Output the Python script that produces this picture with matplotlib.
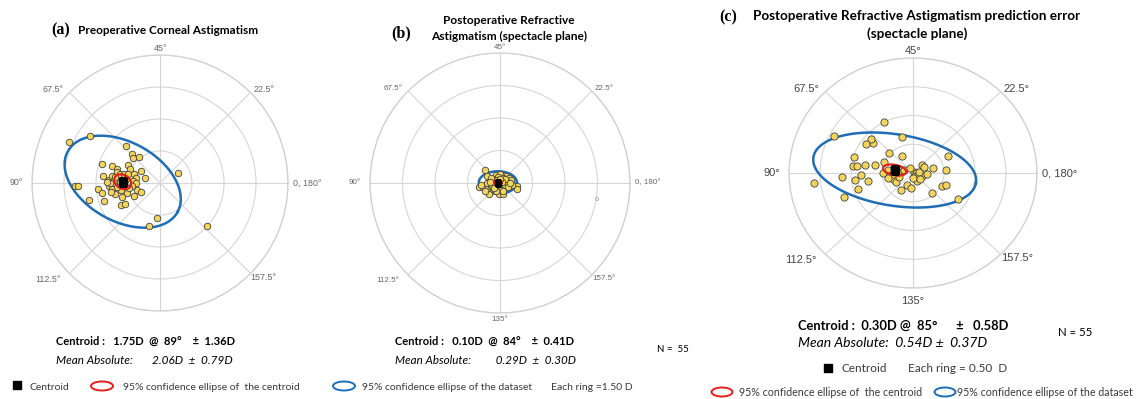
import numpy as np
import matplotlib.pyplot as plt
from matplotlib.patches import Ellipse

plt.rcParams['font.family'] = ['Lato', 'DejaVu Sans']

# double-angle vector components (D): x = C*cos(2*axis), y = C*sin(2*axis)
pre_x = [-4.25, -3.30, -1.59, -1.33, -1.25, -0.98, -2.70, -2.27, -2.02, -2.02,
         -1.48, -1.42, -0.91, -0.72, 0.86, -2.69, -2.38, -2.23, -1.88, -1.69,
         -1.52, -1.23, -1.14, -1.27, -1.14, -3.97, -3.83, -2.92, -2.73, -2.39,
         -2.27, -2.09, -2.30, -1.84, -1.56, -1.08, -0.88, -1.22, -1.77, -3.31,
         -2.64, -1.83, -1.66, -0.14, -0.53, 2.19, -2.16, -1.88, -2.34, -2.03,
         -1.30, -1.60, -2.10, -1.45, -2.50]
pre_y = [1.94, 2.20, 1.73, 1.36, 1.19, 1.23, 0.91, 0.80, 0.67, 0.53,
         0.84, 0.67, 0.55, 0.25, 0.45, 0.33, 0.14, 0.33, 0.41, 0.42,
         0.41, 0.41, 0.25, 0.09, -0.02, -0.16, -0.16, -0.30, -0.48, -0.16,
         -0.30, -0.52, -0.41, -0.34, -0.48, -0.33, -0.44, -0.61, -0.67, -0.80,
         -0.83, -1.03, -0.97, -1.66, -2.02, -2.02, 0.14, 0.06, -0.02, -0.17,
         -0.14, 0.20, 0.30, -0.25, 0.05]

post_x = [-0.69, -0.58, -0.40, -0.46, -0.20, -0.02, -0.12, 0.26, 0.40, 0.51,
          0.34, 0.22, 0.80, 0.77, -0.95, -0.80, -0.58, -0.52, -0.31, -0.03,
          0.14, -0.25, -0.43, -0.62, 0.18, 0.57, -0.69, -0.89,
          -0.15, -0.05, 0.05, -0.20, 0.10, -0.30, 0.00, -0.10, 0.20, -0.25,
          0.12, -0.35, 0.30, -0.08, 0.05, -0.40, 0.35, -0.18, 0.25, -0.05,
          -0.45, 0.45, -0.12, 0.08, -0.28, 0.15, -0.02]
post_y = [0.60, 0.31, 0.11, -0.08, 0.35, 0.43, 0.20, 0.32, 0.23, 0.12,
          -0.05, -0.20, -0.15, -0.29, -0.20, -0.20, -0.26, -0.51, -0.29, -0.51,
          -0.51, -0.05, -0.15, 0.00, 0.08, -0.11, -0.35, -0.08,
          0.05, 0.10, -0.05, -0.10, 0.15, 0.05, -0.15, -0.20, -0.08, 0.20,
          0.25, -0.10, 0.05, 0.30, -0.30, 0.25, -0.20, -0.35, 0.18, -0.05,
          0.05, 0.00, 0.15, 0.05, -0.25, -0.35, 0.20]
post_stray = (4.48, -0.74)

err_x = [-0.18, -0.38, -0.17, -0.46, -0.65, -0.68, -0.76, -0.78, -0.62, -0.84,
         -0.72, -0.49, -0.41, -0.35, -0.33, -0.27, -0.22, -0.19, -0.09, -0.04,
         0.01, 0.05, 0.03, 0.08, 0.14, 0.07, 0.15, 0.22, 0.33, 0.54,
         0.57, 0.31, 0.46, 0.54, 0.72,
         -0.47, -1.27, -0.95, -0.96, -0.90, -1.15, -0.94, -1.60, -1.12, -0.89,
         -0.30, -0.25, -0.32, 0.10, 0.00, -0.15, 0.18, -0.05, 0.12, -0.40]
err_y = [0.62, 0.34, 0.29, 0.19, 0.53, 0.60, 0.50, 0.14, 0.14, -0.03,
         -0.14, 0.00, 0.05, -0.03, -0.11, -0.16, -0.07, -0.29, -0.20, -0.26,
         0.01, 0.00, -0.05, -0.04, -0.05, -0.14, 0.14, -0.02, 0.08, 0.05,
         0.30, -0.34, -0.22, -0.20, -0.46,
         0.88, 0.65, 0.27, 0.12, 0.12, -0.07, -0.12, -0.18, -0.42, -0.27,
         0.08, 0.02, -0.02, 0.02, -0.08, 0.05, 0.10, 0.08, -0.10, -0.08]

centroid_mag = [1.75, 0.10, 0.30]
centroid_axis = [89, 84, 85]
centroid_sd = [1.36, 0.41, 0.58]
mean_abs = [2.06, 0.29, 0.54]
mean_abs_sd = [0.79, 0.30, 0.37]
n_eyes = 55
ring_step = [1.50, 1.50, 0.50]
n_rings = 4

# 95% ellipses (semi-major, semi-minor, tilt in deg)
data_ell = [(2.94, 1.85, -29), (0.88, 0.52, 0), (1.33, 0.62, -10)]
cent_ell = [(0.42, 0.32, -30), (0.18, 0.12, 0), (0.19, 0.09, -12)]

axis_labels = ['0, 180°', '22.5°', '45°', '67.5°', '90°', '112.5°', '135°', '157.5°']

YELLOW = '#F3D55B'
BLUE = '#1f6db5'
RED = '#e3211c'
GREY_TXT = '#3a3a3a'
W, H = 1146, 399

fig = plt.figure(figsize=(W / 100, H / 100), dpi=100)
ov = fig.add_axes([0, 0, 1, 1])
ov.set_xlim(0, W)
ov.set_ylim(H, 0)
ov.axis('off')


def ellipse_polar(cx, cy, a, b, tilt):
    t = np.linspace(0, 2 * np.pi, 300)
    c, s = np.cos(np.radians(tilt)), np.sin(np.radians(tilt))
    x = cx + a * np.cos(t) * c - b * np.sin(t) * s
    y = cy + a * np.cos(t) * s + b * np.sin(t) * c
    return np.unwrap(np.arctan2(y, x)), np.hypot(x, y)


def panel(k, box, xs, ys, lab_size, lab_color, skip=(), round_=True, bot_off=-3,
          pt_size=22, cen_size=28):
    left, top, right, bottom = box
    ax = fig.add_axes([left / W, (H - bottom) / H, (right - left) / W, (bottom - top) / H],
                      projection='polar')
    ax.set_aspect('equal' if round_ else 'auto')
    rmax = ring_step[k] * n_rings
    ax.set_ylim(0, rmax)
    ax.set_yticks(ring_step[k] * np.arange(1, n_rings + 1))
    ax.set_yticklabels([])
    ax.set_xticks(np.radians(np.arange(0, 360, 45)))
    ax.set_xticklabels([])
    ax.grid(color='#d6d6d6', lw=0.8)
    ax.spines['polar'].set_color('#cfcfcf')
    ax.spines['polar'].set_linewidth(0.9)
    ax.set_facecolor('none')

    xs, ys = np.array(xs), np.array(ys)
    ax.scatter(np.arctan2(ys, xs), np.hypot(xs, ys), s=pt_size, c=YELLOW,
               edgecolors='#404040', linewidths=0.6, zorder=3)
    cx = centroid_mag[k] * np.cos(np.radians(2 * centroid_axis[k]))
    cy = centroid_mag[k] * np.sin(np.radians(2 * centroid_axis[k]))
    th, r = ellipse_polar(cx, cy, *data_ell[k])
    ax.plot(th, r, color=BLUE, lw=1.8, zorder=2)
    th, r = ellipse_polar(cx, cy, *cent_ell[k])
    ax.plot(th, r, color=RED, lw=1.6, zorder=4)
    ax.scatter(np.radians(2 * centroid_axis[k]), centroid_mag[k], marker='s', s=cen_size,
               c='black', zorder=5)

    styles = [('left', 'center', (5, 0)), ('left', 'center', (3, 3)),
              ('center', 'bottom', (0, 2)), ('right', 'center', (-6, 3)),
              ('right', 'center', (-9, 0)), ('right', 'center', (-9, -6)),
              ('center', 'top', (0, bot_off)), ('left', 'center', (0, -4))]
    for i, lab in enumerate(axis_labels):
        if i in skip:
            continue
        ha, va, off = styles[i]
        ax.annotate(lab, xy=(np.radians(45 * i), rmax), xytext=off,
                    textcoords='offset pixels', ha=ha, va=va, fontsize=lab_size,
                    color=lab_color, family=['Liberation Sans', 'DejaVu Sans'],
                    annotation_clip=False)
    return ax


panel(0, (32, 55, 288, 311), pre_x, pre_y, 6.4, '#666666', skip=(6,))
axb = panel(1, (370, 53, 630, 313), post_x, post_y, 5.8, '#666666', cen_size=14)
axb.scatter(np.arctan2(post_stray[1], post_stray[0]), np.hypot(*post_stray), s=5,
            facecolors='none', edgecolors='#aaaaaa', linewidths=0.6, zorder=3)
panel(2, (789, 58, 1037, 288), err_x, err_y, 8, '#444444', round_=False, bot_off=-8,
      pt_size=27, cen_size=30)

# titles
serif = ['Liberation Serif', 'DejaVu Serif']
ov.text(51, 30, '(a)', family=serif, weight='bold', fontsize=11.5, va='center')
ov.text(78, 30, 'Preoperative Corneal Astigmatism', weight='bold', fontsize=8.5, va='center')
ov.text(391, 33, '(b)', family=serif, weight='bold', fontsize=11.5, va='center')
ov.text(509, 21, 'Postoperative Refractive', weight='bold', fontsize=8.6,
        ha='center', va='center')
ov.text(509, 36, 'Astigmatism (spectacle plane)', weight='bold', fontsize=8.6,
        ha='center', va='center')
ov.text(719, 17, '(c)', family=serif, weight='bold', fontsize=11.5, va='center')
ov.text(917, 16, 'Postoperative Refractive Astigmatism prediction error', weight='bold',
        fontsize=9.7, ha='center', va='center')
ov.text(917, 34, '(spectacle plane)', weight='bold', fontsize=9.7, ha='center', va='center')

# summary statistics
ov.text(56, 341, f'Centroid :   {centroid_mag[0]:.2f}D  @  {centroid_axis[0]}°    ±  {centroid_sd[0]:.2f}D',
        weight='bold', fontsize=8, va='center')
ov.text(56, 361, f'Mean Absolute:       {mean_abs[0]:.2f}D  ±  {mean_abs_sd[0]:.2f}D',
        style='italic', fontsize=8.5, va='center')
ov.text(395, 341, f'Centroid :   {centroid_mag[1]:.2f}D  @  {centroid_axis[1]}°    ±  {centroid_sd[1]:.2f}D',
        weight='bold', fontsize=8, va='center')
ov.text(395, 361, f'Mean Absolute:         {mean_abs[1]:.2f}D  ±  {mean_abs_sd[1]:.2f}D',
        style='italic', fontsize=8.4, va='center')
ov.text(657, 349, f'N =  {n_eyes}', fontsize=7, va='center')
ov.text(798, 326, f'Centroid :  {centroid_mag[2]:.2f}D @  {centroid_axis[2]}°      ±   {centroid_sd[2]:.2f}D',
        weight='bold', fontsize=9.3, va='center')
ov.text(798, 343, f'Mean Absolute:  {mean_abs[2]:.2f}D ±  {mean_abs_sd[2]:.2f}D',
        style='italic', fontsize=10, va='center')
ov.text(1058, 333, f'N = {n_eyes}', fontsize=8.2, va='center')

# legends
ov.scatter([17], [385], marker='s', s=30, c='black')
ov.text(29, 387, 'Centroid', fontsize=7.5, va='center', color=GREY_TXT)
ov.add_patch(Ellipse((102, 386), 22, 9, fill=False, ec=RED, lw=1.4))
ov.text(123, 387, '95% confidence ellipse of  the centroid', fontsize=7.5, va='center',
        color=GREY_TXT)
ov.add_patch(Ellipse((344, 386), 22, 9, fill=False, ec=BLUE, lw=1.4))
ov.text(362, 387, '95% confidence ellipse of the dataset', fontsize=7.5, va='center',
        color=GREY_TXT)
ov.text(551, 387, f'Each ring ={ring_step[0]:.2f} D', fontsize=7.5, va='center',
        color=GREY_TXT)

ov.scatter([828], [368], marker='s', s=30, c='black')
ov.text(842, 369, 'Centroid', fontsize=8.5, va='center', color=GREY_TXT)
ov.text(908, 369, f'Each ring = {ring_step[2]:.2f}  D', fontsize=8.5, va='center',
        color=GREY_TXT)
ov.add_patch(Ellipse((722, 392), 21, 9, fill=False, ec=RED, lw=1.4))
ov.text(739, 392, '95% confidence ellipse of  the centroid', fontsize=7.7, va='center',
        color=GREY_TXT)
ov.add_patch(Ellipse((945, 392), 21, 9, fill=False, ec=BLUE, lw=1.4))
ov.text(957, 392, '95% confidence ellipse of the dataset', fontsize=7.7, va='center',
        color=GREY_TXT)

fig.savefig('out.png', dpi=100)
